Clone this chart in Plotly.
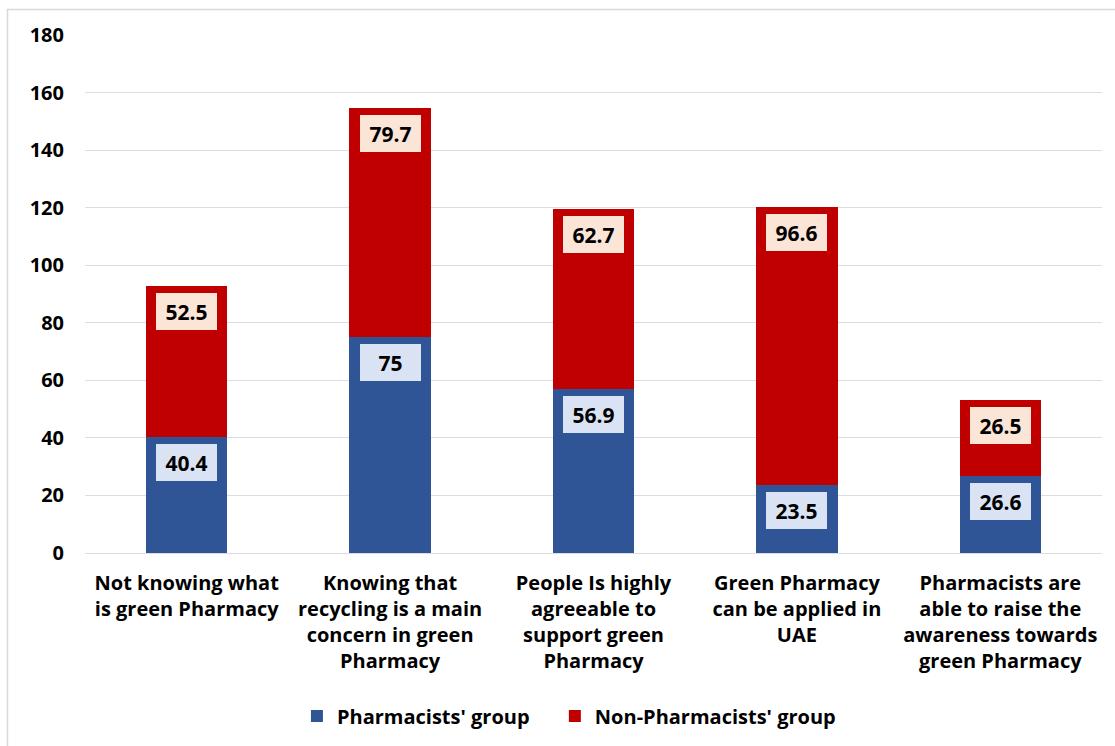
import plotly.graph_objects as go

categories = [
    "Not knowing what<br>is green Pharmacy",
    "Knowing that<br>recycling is a main<br>concern in green<br>Pharmacy",
    "People Is highly<br>agreeable to<br>support green<br>Pharmacy",
    "Green Pharmacy<br>can be applied in<br>UAE",
    "Pharmacists are<br>able to raise the<br>awareness towards<br>green Pharmacy",
]
pharmacists = [40.4, 75, 56.9, 23.5, 26.6]
non_pharmacists = [52.5, 79.7, 62.7, 96.6, 26.5]
y_ticks = [0, 20, 40, 60, 80, 100, 120, 140, 160, 180]

BLUE = "#2F5597"
RED = "#C00000"
FONT = "Open Sans"
FS = 20

fig = go.Figure()
fig.add_trace(go.Bar(x=categories, y=pharmacists, name="Pharmacists' group",
                     marker=dict(color=BLUE, line=dict(width=0)), legend="legend"))
fig.add_trace(go.Bar(x=categories, y=non_pharmacists, name="Non-Pharmacists' group",
                     marker=dict(color=RED, line=dict(width=0)), legend="legend2"))

annotations = []
for cat, p, n in zip(categories, pharmacists, non_pharmacists):
    for top, val, bg in ((p, p, "#DAE3F3"), (p + n, n, "#FBE5D6")):
        annotations.append(dict(
            x=cat, y=top, xref="x", yref="y", yanchor="top", yshift=-7,
            text=f"<b>{val:g}</b>", showarrow=False,
            font=dict(family=FONT, size=FS + 1, color="black"),
            bgcolor=bg, bordercolor=bg, borderwidth=0,
            width=59, height=35, align="center", valign="middle",
        ))

legend_style = dict(orientation="h", xanchor="left", y=-0.3146, yanchor="middle",
                    font=dict(family=FONT, size=FS, color="black", weight="bold"),
                    itemwidth=30, bgcolor="rgba(0,0,0,0)")

fig.update_layout(
    barmode="stack",
    bargap=0.6,
    width=1115, height=746,
    margin=dict(l=85, r=13, t=35, b=193, autoexpand=False),
    paper_bgcolor="white", plot_bgcolor="white",
    font=dict(family=FONT, size=FS, color="black"),
    annotations=annotations,
    legend=dict(x=0.2084, **legend_style),
    legend2=dict(x=0.462, **legend_style),
    shapes=[dict(type="rect", xref="paper", yref="paper",
                 x0=-0.0762, x1=1.3, y0=-0.6, y1=1.0492,
                 line=dict(color="#D9D9D9", width=1.5), fillcolor="rgba(0,0,0,0)", layer="below")],
    showlegend=True,
)
fig.update_yaxes(range=[0, 180], tickvals=y_ticks, showgrid=True, gridcolor="#D9DEE5", gridwidth=1,
                 zeroline=False, showline=False, ticks="", automargin=False,
                 tickfont=dict(family=FONT, size=FS, color="black", weight="bold"),
                 ticklabelstandoff=20)
fig.update_xaxes(showline=True, linecolor="#D9DEE5", linewidth=1, ticks="", automargin=False,
                 tickfont=dict(family=FONT, size=FS, color="black", weight="bold"),
                 ticklabelstandoff=12, tickangle=0)

fig.write_html("out.html")
